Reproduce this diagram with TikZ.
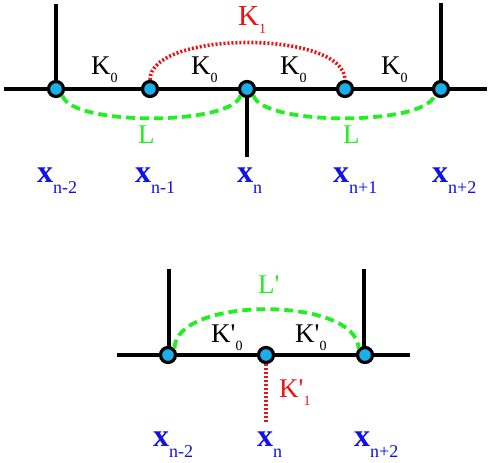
\documentclass[tikz,border=0pt]{standalone}
\usepackage{fontspec}
\setmainfont{Liberation Serif}
\definecolor{dotfill}{HTML}{1AAEEA}
\definecolor{lgreen}{HTML}{22EE22}
\definecolor{lred}{HTML}{EE1111}
\definecolor{lblue}{HTML}{1010E8}
\newcommand{\ksub}[1]{\raisebox{-8pt}{\fontsize{14}{14}\selectfont #1}}
\newcommand{\xsub}[1]{\raisebox{-11pt}{\fontsize{18}{18}\selectfont #1}}
\begin{document}
\begin{tikzpicture}[x=1pt,y=-1pt,
  pt/.style={circle,draw=black,line width=3.2pt,fill=dotfill,minimum size=15pt,inner sep=0pt},
  wire/.style={line width=3.6pt,black},
  lnk/.style={line width=3.8pt,lgreen,dash pattern=on 9pt off 5pt},
  kone/.style={line width=3.6pt,lred,dash pattern=on 2pt off 2pt},
  klab/.style={font=\fontsize{27}{27}\selectfont,inner sep=0pt,anchor=base west},
  xlab/.style={font=\fontsize{32}{32}\selectfont,text=lblue,inner sep=0pt,anchor=base west}]
\useasboundingbox (0,0) rectangle (490,463);
% ---------- top diagram ----------
\coordinate (lend) at (4,89);
\coordinate (rend) at (487,89);
\coordinate (t1) at (56,4);
\coordinate (t5) at (441,3);
\coordinate (bc) at (247,157);
\draw[wire] (lend) -- (rend);
\draw[wire] (t1) -- (56,89);
\draw[wire] (t5) -- (441,89);
\draw[wire] (247,89) -- (bc);
\node[pt] (a1) at (56,89) {};
\node[pt] (a2) at (150,89) {};
\node[pt] (a3) at (247,89) {};
\node[pt] (a4) at (345,89) {};
\node[pt] (a5) at (441,89) {};
\draw[lnk] (a1.south east) .. controls (70,126) and (232,126) .. (a3.south west);
\draw[lnk] (a3.south east) .. controls (262,126) and (425,126) .. (a5.south west);
\draw[kone] (a2.north) .. controls (150,30) and (345,30) .. (a4.north);
\node[klab] (k0a) at (91,74) {K\ksub{0}};
\node[klab] (k0b) at (191,74) {K\ksub{0}};
\node[klab] (k0c) at (280,74) {K\ksub{0}};
\node[klab] (k0d) at (381,74) {K\ksub{0}};
\node[klab,text=lred,font=\fontsize{29}{29}\selectfont] (k1) at (238,25) {K\ksub{1}};
\node[klab,text=lgreen] (l1) at (138,143) {L};
\node[klab,text=lgreen] (l2) at (343,143) {L};
\node[xlab] (x1) at (37,182) {\textbf{x}\xsub{n-2}};
\node[xlab] (x2) at (135,182) {\textbf{x}\xsub{n-1}};
\node[xlab] (x3) at (237,182) {\textbf{x}\xsub{n}};
\node[xlab] (x4) at (333,182) {\textbf{x}\xsub{n+1}};
\node[xlab] (x5) at (432,182) {\textbf{x}\xsub{n+2}};
% ---------- bottom diagram ----------
\coordinate (blend) at (117,355);
\coordinate (brend) at (410,355);
\coordinate (bt1) at (169,269);
\coordinate (bt3) at (364,269);
\coordinate (bdn) at (266,422);
\draw[wire] (blend) -- (brend);
\draw[wire] (bt1) -- (169,355);
\draw[wire] (bt3) -- (364,355);
\node[pt] (b1) at (168,355) {};
\node[pt] (b2) at (266,355) {};
\node[pt] (b3) at (365,355) {};
\draw[kone] (b2.south) -- (bdn);
\draw[lnk] (b1.north east) .. controls (175,296) and (357,296) .. (b3.north west);
\node[klab] (kp0a) at (211,342) {K\textquotesingle\ksub{0}};
\node[klab] (kp0b) at (295,342) {K\textquotesingle\ksub{0}};
\node[klab,text=lred] (kp1) at (279,397) {K\textquotesingle\ksub{1}};
\node[klab,text=lgreen] (lp) at (258,293) {L\textquotesingle};
\node[xlab] (y1) at (153,446) {\textbf{x}\xsub{n-2}};
\node[xlab] (y2) at (257,446) {\textbf{x}\xsub{n}};
\node[xlab] (y3) at (354,446) {\textbf{x}\xsub{n+2}};
\end{tikzpicture}
\end{document}
